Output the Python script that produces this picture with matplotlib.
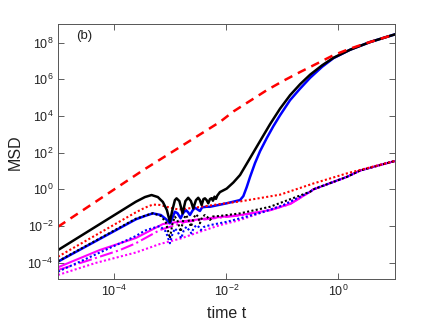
import numpy as np
import matplotlib
matplotlib.use("Agg")
import matplotlib.pyplot as plt

plt.rcParams["font.family"] = ["Liberation Sans", "DejaVu Sans"]

# values, as log10(t) and log10(MSD)
red_dash_lt = [-5.0, -3.48, -2.11, -1.87, -1.28, -0.98, -0.68, -0.38, -0.09, 0.2, 0.51, 1.0]
red_dash_lm = [-2.04, 1.05, 3.68, 4.25, 5.40, 5.92, 6.40, 6.86, 7.31, 7.66, 7.98, 8.44]

black_lt = [-5.0, -3.613, -3.45, -3.332, -3.22, -3.13, -3.059, -3.005, -2.961, -2.916,
            -2.886, -2.836, -2.779, -2.729, -2.679, -2.63, -2.589, -2.541, -2.5, -2.47,
            -2.439, -2.407, -2.38, -2.35, -2.321, -2.291, -2.26, -2.238, -2.21, -2.184,
            -2.16, -2.113, -1.993, -1.875, -1.755, -1.577, -1.398, -1.22, -1.041, -0.863,
            -0.684, -0.505, -0.291, -0.089, 0.209, 0.566, 1.0]
black_lm = [-3.31, -0.677, -0.42, -0.31, -0.42, -0.69, -1.13, -1.77, -1.13, -0.59,
            -0.49, -0.64, -1.31, -0.64, -0.46, -0.64, -1.04, -0.59, -0.46, -0.59,
            -0.86, -0.53, -0.49, -0.59, -0.76, -0.53, -0.48, -0.62, -0.40, -0.52,
            -0.34, -0.15, 0.04, 0.37, 0.78, 1.70, 2.63, 3.55, 4.40, 5.13,
            5.73, 6.25, 6.76, 7.17, 7.61, 8.03, 8.44]

blue_lt = [-5.0, -3.613, -3.45, -3.309, -3.166, -3.077, -3.005, -2.961, -2.916, -2.87,
           -2.814, -2.77, -2.72, -2.68, -2.648, -2.6, -2.559, -2.51, -2.47, -2.43,
           -2.35, -2.291, -1.993, -1.755, -1.696, -1.636, -1.577, -1.488, -1.398, -1.279,
           -1.161, -1.041, -0.863, -0.684, -0.505, -0.291, -0.089, 0.209, 0.566, 1.0]
blue_lm = [-3.94, -1.635, -1.45, -1.31, -1.40, -1.62, -1.85, -1.55, -1.22, -1.30,
           -1.58, -1.30, -1.13, -1.25, -1.40, -1.15, -1.00, -1.10, -1.18, -0.98,
           -0.95, -0.95, -0.76, -0.585, -0.37, 0.12, 0.67, 1.43, 2.08, 2.79,
           3.44, 4.04, 4.86, 5.49, 6.08, 6.68, 7.15, 7.61, 8.03, 8.44]

red_dot_lt = [-5.0, -3.613, -3.45, -3.309, -3.184, -3.0, -2.85, -2.7, -2.47, -2.113,
              -1.755, -1.041, -0.446, 0.15, 0.388, 1.0]
red_dot_lm = [-3.671, -1.254, -1.0, -0.83, -0.85, -1.00, -1.10, -1.05, -0.96, -0.80,
              -0.66, -0.29, 0.32, 0.87, 1.06, 1.54]

black_dot_lt = [-5.0, -3.613, -3.309, -3.166, -3.077, -3.005, -2.961, -2.916, -2.87, -2.814,
                -2.765, -2.72, -2.68, -2.63, -2.58, -2.541, -2.5, -2.47, -2.43, -2.38,
                -2.34, -2.291, -2.24, -2.113, -1.755, -1.22, -0.505, -0.446, 0.15, 0.388, 1.0]
black_dot_lm = [-3.92, -1.60, -1.30, -1.45, -1.80, -2.67, -1.90, -1.49, -1.70, -2.31,
                -1.65, -1.40, -1.60, -2.04, -1.55, -1.36, -1.50, -1.85, -1.50, -1.40,
                -1.50, -1.67, -1.48, -1.45, -1.31, -0.95, -0.13, 0.0, 0.68, 1.03, 1.54]

blue_dot_lt = [-5.0, -3.613, -3.452, -3.332, -3.184, -3.077, -3.005, -2.961, -2.916, -2.87,
               -2.803, -2.76, -2.711, -2.67, -2.62, -2.58, -2.532, -2.49, -2.454, -2.4,
               -2.291, -1.993, -1.755, -1.346, -0.982, -0.505, -0.446, 0.15, 0.388, 1.0]
blue_dot_lm = [-4.487, -2.545, -2.25, -2.13, -2.0, -2.3, -2.94, -2.45, -2.13, -2.30,
               -2.67, -2.25, -2.04, -2.20, -2.40, -2.10, -1.95, -2.05, -2.22, -2.05,
               -1.95, -1.77, -1.58, -1.24, -0.86, -0.13, 0.0, 0.68, 1.03, 1.54]

mag_lt = [-5.0, -4.255, -3.613, -3.13, -2.738, -2.291, -1.755, -1.22, -0.863, -0.505,
          -0.446, 0.15, 0.388, 1.0]
mag_lm = [-4.248, -3.306, -2.653, -1.891, -1.728, -1.565, -1.40, -1.13, -0.80, -0.13,
          0.0, 0.68, 1.03, 1.54]

mag_dd_lt = [-5.0, -4.434, -3.898, -3.613, -3.184, -2.738, -2.291, -1.755, -1.22, -0.863,
             -0.505, -0.446, 0.15, 0.388, 1.0]
mag_dd_lm = [-4.395, -3.85, -3.31, -2.94, -2.218, -1.78, -1.60, -1.42, -1.14, -0.80,
             -0.13, 0.0, 0.68, 1.03, 1.54]

mag_dot_lt = [-5.0, -4.327, -3.613, -3.184, -2.814, -2.47, -2.113, -1.755, -1.346, -0.982,
              -0.505, -0.446, 0.15, 0.388, 1.0]
mag_dot_lm = [-4.667, -4.01, -3.443, -2.98, -2.68, -2.31, -1.95, -1.67, -1.24, -0.86,
              -0.13, 0.0, 0.68, 1.03, 1.54]

xticks = [1e-4, 1e-2, 1e0]
yticks = [1e-4, 1e-2, 1e0, 1e2, 1e4, 1e6, 1e8]


def p(lt, lm):
    return 10.0 ** np.array(lt), 10.0 ** np.array(lm)


fig = plt.figure(figsize=(4.36, 3.27), dpi=100)
ax = fig.add_axes([0.133, 0.146, 0.772, 0.780])

dot = (0, (1, 1.1))
ax.plot(*p(mag_dot_lt, mag_dot_lm), color="#ff00ff", lw=1.5, ls=dot)
ax.plot(*p(mag_dd_lt, mag_dd_lm), color="#ff00ff", lw=1.5, ls="-.")
ax.plot(*p(mag_lt, mag_lm), color="#ff00ff", lw=1.5)
ax.plot(*p(blue_lt, blue_lm), color="#0000ff", lw=1.8)
ax.plot(*p(blue_dot_lt, blue_dot_lm), color="#0000ff", lw=1.5, ls=dot)
ax.plot(*p(black_dot_lt, black_dot_lm), color="k", lw=1.5, ls=dot)
ax.plot(*p(red_dot_lt, red_dot_lm), color="#ff0000", lw=1.5, ls=dot)
ax.plot(*p(black_lt, black_lm), color="k", lw=1.8)
ax.plot(*p(red_dash_lt, red_dash_lm), color="#ff0000", lw=1.8, ls=(0, (3.5, 2.5)))

ax.set_xscale("log")
ax.set_yscale("log")
ax.set_xlim(1e-5, 10)
ax.set_ylim(10 ** -4.9, 1e9)
ax.set_xticks(xticks)
ax.set_yticks(yticks)
ax.minorticks_off()
ax.tick_params(which="both", direction="in", top=True, right=True, length=4,
               width=0.6, color="#444444", labelsize=9, labelcolor="#222222")
for s in ax.spines.values():
    s.set_color("#555555")
    s.set_linewidth(0.7)

ax.set_xlabel("time t", fontsize=11.5, color="#222222", labelpad=5)
ax.set_ylabel("MSD", fontsize=11.5, color="#222222", labelpad=3)
ax.text(0.055, 0.955, "(b)", transform=ax.transAxes, fontsize=9.5,
        va="center", ha="left", color="#222222")

fig.savefig("out.png", dpi=100)
